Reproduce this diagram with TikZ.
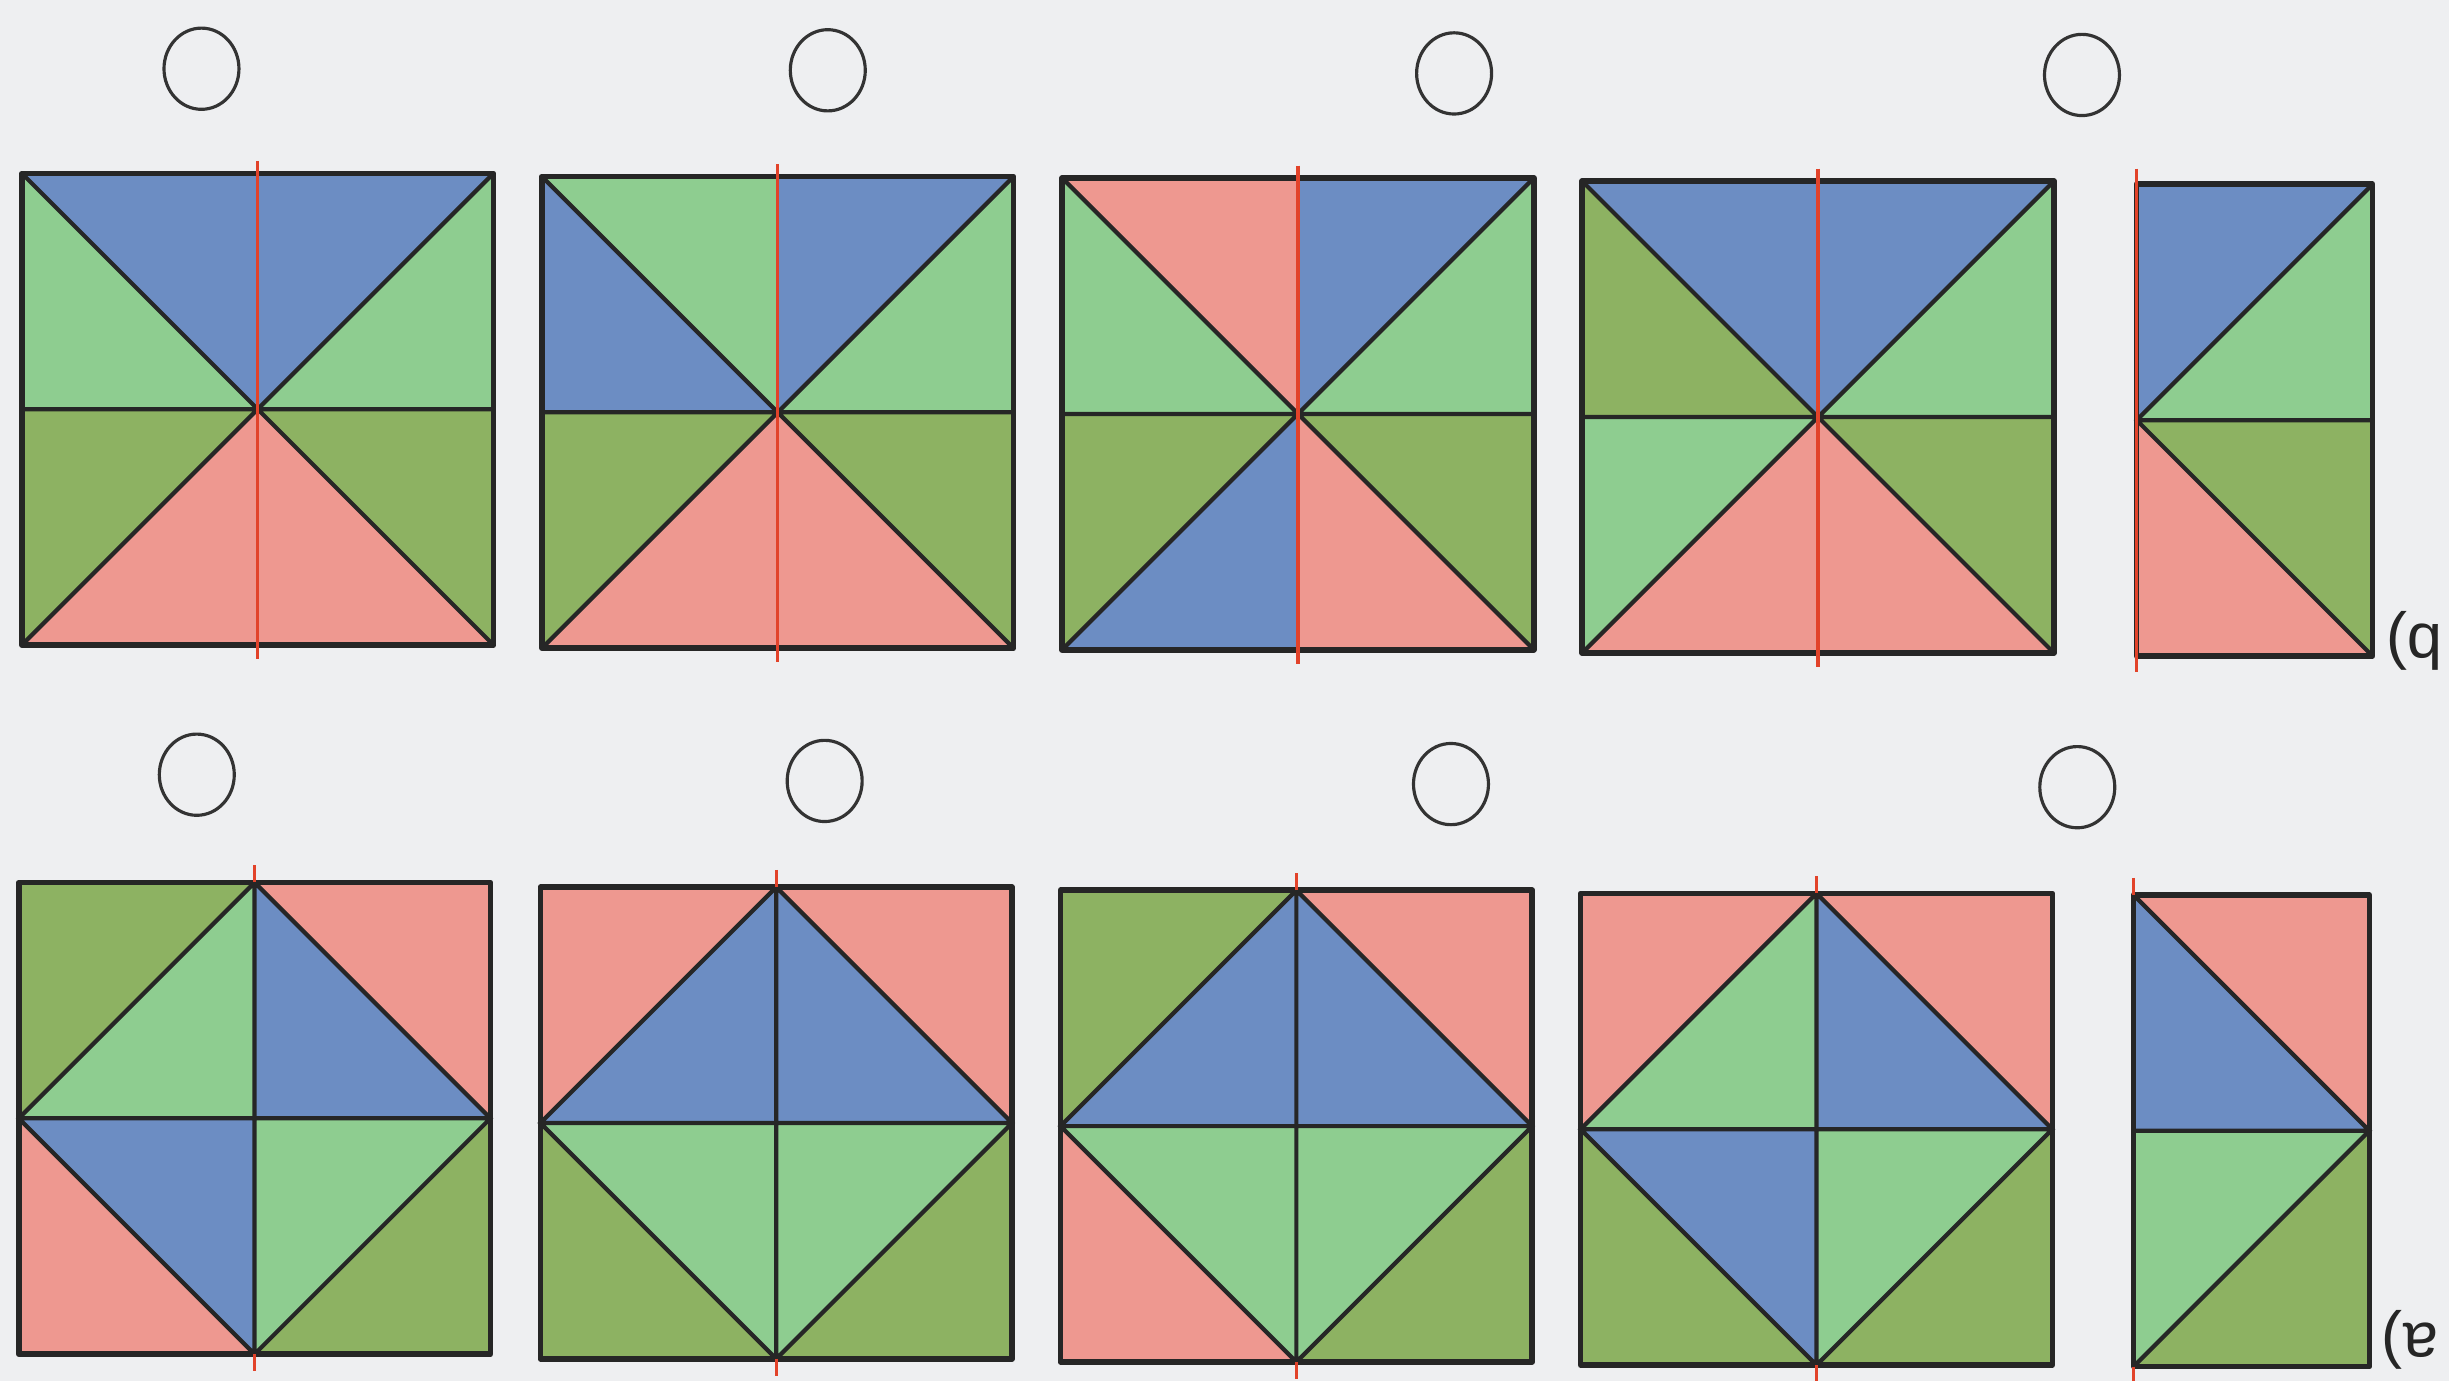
\documentclass[tikz,border=0pt]{standalone}
\usepackage{fontspec}
\newfontfamily\labelfont{Liberation Sans}
\definecolor{paper}{HTML}{EEEFF1}
\definecolor{tileblue}{HTML}{6C8DC3}
\definecolor{lightgreen}{HTML}{8ECD90}
\definecolor{darkgreen}{HTML}{8DB262}
\definecolor{salmon}{HTML}{EE9890}
\definecolor{axisred}{HTML}{E2432A}
\tikzset{
  outline/.style={draw=black!85,line width=1.6pt,line join=round},
  cutline/.style={draw=black!85,line width=1.2pt},
  axisline/.style={draw=axisred,line width=.9pt},
  answer/.style={draw=black!80,line width=.9pt},
  rowlabel/.style={font=\labelfont\fontsize{18}{18}\selectfont,text=black!85,rotate=180,inner sep=0pt},
}

\begin{document}
\begin{tikzpicture}[x=.15619mm,y=-.15619mm]
  \fill[paper] (0,0) rectangle (1568,884);
  \useasboundingbox (0,0) rectangle (1568,884);

  % b) upper row: crossed diagonals, red mirror axis through the middle
  \foreach \sx/\sy/\ta/\tb/\lu/\ru/\ll/\rl/\ba/\bb in {
    14/111/tileblue/tileblue/lightgreen/lightgreen/darkgreen/darkgreen/salmon/salmon,
    347/113/lightgreen/tileblue/tileblue/lightgreen/darkgreen/darkgreen/salmon/salmon,
    680/114/salmon/tileblue/lightgreen/lightgreen/darkgreen/darkgreen/tileblue/salmon,
    1013/116/tileblue/tileblue/darkgreen/lightgreen/lightgreen/darkgreen/salmon/salmon}
  {\begin{scope}[shift={(\sx,\sy)}]
     \fill[\ta] (0,0) -- (151,0) -- (151,151) -- cycle;
     \fill[\tb] (151,0) -- (302,0) -- (151,151) -- cycle;
     \fill[\lu] (0,0) -- (151,151) -- (0,151) -- cycle;
     \fill[\ru] (302,0) -- (302,151) -- (151,151) -- cycle;
     \fill[\ll] (0,151) -- (151,151) -- (0,302) -- cycle;
     \fill[\rl] (302,151) -- (302,302) -- (151,151) -- cycle;
     \fill[\ba] (0,302) -- (151,151) -- (151,302) -- cycle;
     \fill[\bb] (151,302) -- (151,151) -- (302,302) -- cycle;
     \draw[cutline] (0,151) -- (302,151) (0,0) -- (302,302) (302,0) -- (0,302);
     \draw[outline] (0,0) rectangle (302,302);
     \draw[axisline] (151,-8) -- (151,311);
   \end{scope}}
  % half tile to be completed
  \begin{scope}[shift={(1368,118)}]
    \fill[tileblue] (0,0) -- (151,0) -- (0,151) -- cycle;
    \fill[lightgreen] (151,0) -- (151,151) -- (0,151) -- cycle;
    \fill[darkgreen] (0,151) -- (151,151) -- (151,302) -- cycle;
    \fill[salmon] (0,151) -- (151,302) -- (0,302) -- cycle;
    \draw[cutline] (0,151) -- (151,151) (151,0) -- (0,151) -- (151,302);
    \draw[outline] (0,0) rectangle (151,302);
    \draw[axisline] (0,-10) -- (0,312);
  \end{scope}
  \foreach \cx/\cy in {129/44,530/45,931/47,1333/48}
    \draw[answer] (\cx,\cy) ellipse[x radius=24,y radius=26];
  \node[rowlabel] (labelb) at (1546,410) {b)};

  % a) lower row: diamond on the midpoints, short red ticks
  \foreach \sx/\sy/\tlc/\tli/\tri/\trc/\bli/\blc/\bri/\brc in {
    12/565/darkgreen/lightgreen/tileblue/salmon/tileblue/salmon/lightgreen/darkgreen,
    346/568/salmon/tileblue/tileblue/salmon/lightgreen/darkgreen/lightgreen/darkgreen,
    679/570/darkgreen/tileblue/tileblue/salmon/lightgreen/salmon/lightgreen/darkgreen,
    1012/572/salmon/lightgreen/tileblue/salmon/tileblue/darkgreen/lightgreen/darkgreen}
  {\begin{scope}[shift={(\sx,\sy)}]
     \fill[\tlc] (0,0) -- (151,0) -- (0,151) -- cycle;
     \fill[\tli] (151,0) -- (151,151) -- (0,151) -- cycle;
     \fill[\tri] (151,0) -- (302,151) -- (151,151) -- cycle;
     \fill[\trc] (151,0) -- (302,0) -- (302,151) -- cycle;
     \fill[\bli] (0,151) -- (151,151) -- (151,302) -- cycle;
     \fill[\blc] (0,151) -- (151,302) -- (0,302) -- cycle;
     \fill[\bri] (151,151) -- (302,151) -- (151,302) -- cycle;
     \fill[\brc] (302,151) -- (302,302) -- (151,302) -- cycle;
     \draw[cutline] (0,151) -- (302,151) (151,0) -- (151,302)
       (151,0) -- (302,151) -- (151,302) -- (0,151) -- cycle;
     \draw[outline] (0,0) rectangle (302,302);
     \draw[axisline] (151,-11) -- (151,0) (151,302) -- (151,313);
   \end{scope}}
  \begin{scope}[shift={(1366,573)}]
    \fill[tileblue] (0,0) -- (151,151) -- (0,151) -- cycle;
    \fill[salmon] (0,0) -- (151,0) -- (151,151) -- cycle;
    \fill[lightgreen] (0,151) -- (151,151) -- (0,302) -- cycle;
    \fill[darkgreen] (151,151) -- (151,302) -- (0,302) -- cycle;
    \draw[cutline] (0,151) -- (151,151) (0,0) -- (151,151) -- (0,302);
    \draw[outline] (0,0) rectangle (151,302);
    \draw[axisline] (0,-11) -- (0,0) (0,302) -- (0,313);
  \end{scope}
  \foreach \cx/\cy in {126/496,528/500,929/502,1330/504}
    \draw[answer] (\cx,\cy) ellipse[x radius=24,y radius=26];
  \node[rowlabel] (labela) at (1543,858) {a)};
\end{tikzpicture}
\end{document}
